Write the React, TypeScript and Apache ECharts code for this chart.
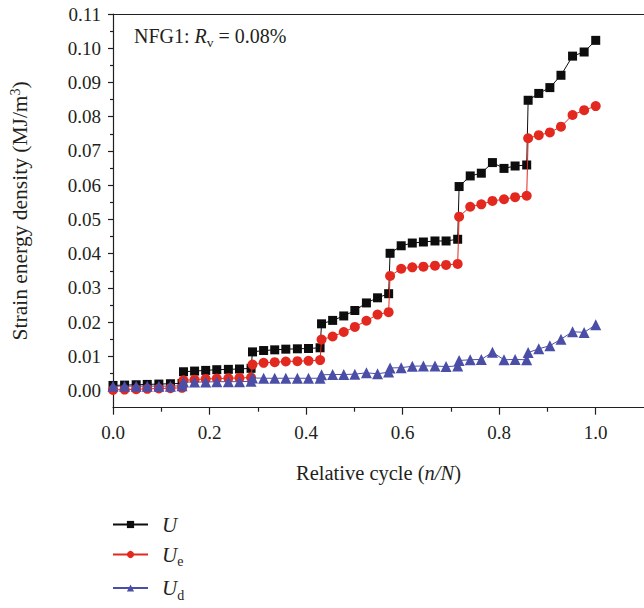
import React, { useEffect, useRef } from "react";
import * as echarts from "echarts";

// Relative cycle n/N for each recorded point (7 loading stages, 7 points each)
const cycles = [
  0.000, 0.024, 0.048, 0.071, 0.095, 0.119, 0.143,
  0.146, 0.169, 0.192, 0.215, 0.239, 0.262, 0.286,
  0.289, 0.312, 0.335, 0.358, 0.382, 0.405, 0.429,
  0.432, 0.455, 0.478, 0.501, 0.525, 0.548, 0.571,
  0.574, 0.597, 0.620, 0.643, 0.667, 0.690, 0.714,
  0.717, 0.740, 0.763, 0.786, 0.810, 0.833, 0.857,
  0.860, 0.882, 0.905, 0.928, 0.952, 0.976, 1.000,
];

// Total strain energy density U (MJ/m3)
const uTotal = [
  0.0015, 0.0016, 0.0017, 0.0018, 0.0019, 0.0020, 0.0021,
  0.0055, 0.0057, 0.0059, 0.0061, 0.0062, 0.0063, 0.0065,
  0.0113, 0.0117, 0.0119, 0.0121, 0.0122, 0.0123, 0.0125,
  0.0195, 0.0205, 0.0218, 0.0234, 0.0256, 0.0271, 0.0283,
  0.0401, 0.0423, 0.0431, 0.0434, 0.0437, 0.0437, 0.0442,
  0.0596, 0.0627, 0.0635, 0.0666, 0.0649, 0.0656, 0.0659,
  0.0848, 0.0868, 0.0885, 0.0921, 0.0977, 0.0989, 0.1023,
];

// Elastic strain energy density Ue
const uElastic = [
  0.0002, 0.0003, 0.0004, 0.0005, 0.0006, 0.0007, 0.0008,
  0.0030, 0.0032, 0.0034, 0.0035, 0.0036, 0.0037, 0.0038,
  0.0076, 0.0081, 0.0083, 0.0085, 0.0086, 0.0087, 0.0089,
  0.0149, 0.0158, 0.0171, 0.0186, 0.0204, 0.0222, 0.0229,
  0.0335, 0.0356, 0.0360, 0.0362, 0.0365, 0.0367, 0.0370,
  0.0508, 0.0537, 0.0544, 0.0554, 0.0559, 0.0565, 0.0569,
  0.0737, 0.0746, 0.0754, 0.0771, 0.0805, 0.0819, 0.0831,
];

// Dissipated strain energy density Ud
const uDissipated = [
  0.0013, 0.0013, 0.0013, 0.0013, 0.0013, 0.0013, 0.0014,
  0.0025, 0.0025, 0.0025, 0.0026, 0.0026, 0.0026, 0.0027,
  0.0037, 0.0036, 0.0036, 0.0036, 0.0036, 0.0036, 0.0036,
  0.0046, 0.0047, 0.0047, 0.0048, 0.0052, 0.0049, 0.0054,
  0.0066, 0.0067, 0.0071, 0.0072, 0.0072, 0.0070, 0.0072,
  0.0088, 0.0090, 0.0091, 0.0112, 0.0090, 0.0091, 0.0090,
  0.0111, 0.0122, 0.0131, 0.0150, 0.0172, 0.0170, 0.0192,
];

const seriesNames = ["U", "Ue", "Ud"];

const xMajorTicks = [0, 0.2, 0.4, 0.6, 0.8, 1.0];
const xMinorTicks = [0.1, 0.3, 0.5, 0.7, 0.9];
const yMajorTicks = [0, 0.01, 0.02, 0.03, 0.04, 0.05, 0.06, 0.07, 0.08, 0.09, 0.1, 0.11];
const yMinorTicks = [0.005, 0.015, 0.025, 0.035, 0.045, 0.055, 0.065, 0.075, 0.085, 0.095, 0.105];

const FONT = '"Liberation Serif", "Times New Roman", serif';
const INK = "#231f20";

export default function App() {
  const ref = useRef<HTMLDivElement>(null);

  useEffect(() => {
    if (!ref.current) return;
    const chart = echarts.init(ref.current, undefined, { renderer: "svg" });

    const axisLineStyle = { color: INK, width: 1.2 };
    const xRange = { min: 0, max: 1.1 };
    const yRange = { min: -0.005, max: 0.11 };

    const option = {
      animation: false,
      textStyle: { fontFamily: FONT, color: INK },
      grid: { left: 112.7, top: 14, right: -2, bottom: 200.3 },
      xAxis: [
        {
          type: "value",
          position: "bottom",
          ...xRange,
          axisLine: { show: true, onZero: false, lineStyle: axisLineStyle },
          axisTick: { show: true, customValues: xMajorTicks, length: 7, lineStyle: axisLineStyle },
          axisLabel: {
            customValues: xMajorTicks,
            formatter: (v: number) => v.toFixed(1),
            fontSize: 19,
            fontFamily: FONT,
            color: INK,
            margin: 15,
          },
          splitLine: { show: false },
          name: "{a|Relative cycle (}{i|n/N}{a|)}",
          nameLocation: "middle",
          nameGap: 53,
          nameTextStyle: {
            rich: {
              a: { fontSize: 20.5, fontFamily: FONT, color: INK, lineHeight: 24 },
              i: { fontSize: 20.5, fontFamily: FONT, color: INK, fontStyle: "italic", lineHeight: 24 },
            },
          },
        },
        {
          type: "value",
          position: "bottom",
          ...xRange,
          axisLine: { show: false, onZero: false },
          axisTick: { show: true, customValues: xMinorTicks, length: 4, lineStyle: axisLineStyle },
          axisLabel: { show: false },
          splitLine: { show: false },
        },
        {
          type: "value",
          position: "top",
          ...xRange,
          axisLine: { show: true, onZero: false, lineStyle: axisLineStyle },
          axisTick: { show: false },
          axisLabel: { show: false },
          splitLine: { show: false },
        },
      ],
      yAxis: [
        {
          type: "value",
          position: "left",
          ...yRange,
          axisLine: { show: true, onZero: false, lineStyle: axisLineStyle },
          axisTick: { show: true, customValues: yMajorTicks, length: 5, lineStyle: axisLineStyle },
          axisLabel: {
            customValues: yMajorTicks,
            formatter: (v: number) => v.toFixed(2),
            fontSize: 19,
            fontFamily: FONT,
            color: INK,
            margin: 12,
          },
          splitLine: { show: false },
          name: "{a|Strain energy density (MJ/m}{sup|3}{a|)}",
          nameLocation: "middle",
          nameRotate: 90,
          nameGap: 81,
          nameTextStyle: {
            rich: {
              a: { fontSize: 21.5, fontFamily: FONT, color: INK, lineHeight: 24 },
              sup: { fontSize: 14, fontFamily: FONT, color: INK, lineHeight: 14, verticalAlign: "top" },
            },
          },
        },
        {
          type: "value",
          position: "left",
          ...yRange,
          axisLine: { show: false, onZero: false },
          axisTick: { show: true, customValues: yMinorTicks, length: 3, lineStyle: axisLineStyle },
          axisLabel: { show: false },
          splitLine: { show: false },
        },
      ],
      legend: {
        orient: "vertical",
        left: 112,
        top: 514,
        padding: 0,
        itemWidth: 35,
        itemHeight: 9,
        itemGap: 9,
        data: seriesNames,
        formatter: (name: string) =>
          name === "U" ? "{u|U}" : "{u|U}{s|" + name.slice(1) + "}",
        textStyle: {
          fontFamily: FONT,
          color: INK,
          rich: {
            u: { fontSize: 21, fontStyle: "italic", fontFamily: FONT, color: INK, lineHeight: 28, padding: [0, 0, 0, 9] },
            s: { fontSize: 14, fontFamily: FONT, color: INK, lineHeight: 14, verticalAlign: "bottom" },
          },
        },
      },
      graphic: [
        {
          type: "text",
          x: 134,
          y: 36,
          style: {
            text: "{a|NFG1: }{i|R}{s|v}{a| = 0.08%}",
            verticalAlign: "middle",
            rich: {
              a: { fontSize: 20, fontFamily: FONT, fill: INK, lineHeight: 26 },
              i: { fontSize: 20, fontFamily: FONT, fill: INK, fontStyle: "italic", lineHeight: 26 },
              s: { fontSize: 13.5, fontFamily: FONT, fill: INK, lineHeight: 13, verticalAlign: "bottom" },
            },
          },
        },
      ],
      series: [
        {
          name: seriesNames[0],
          type: "line",
          xAxisIndex: 0,
          yAxisIndex: 0,
          data: cycles.map((c, i) => [c, uTotal[i]]),
          symbol: "rect",
          symbolSize: 9,
          color: "#0d0d0d",
          lineStyle: { width: 1, color: "#0d0d0d" },
          itemStyle: { color: "#0d0d0d" },
          z: 2,
        },
        {
          name: seriesNames[1],
          type: "line",
          xAxisIndex: 0,
          yAxisIndex: 0,
          data: cycles.map((c, i) => [c, uElastic[i]]),
          symbol: "circle",
          symbolSize: 10,
          color: "#e3291f",
          lineStyle: { width: 1, color: "#e3291f" },
          itemStyle: { color: "#e3291f" },
          z: 3,
        },
        {
          name: seriesNames[2],
          type: "line",
          xAxisIndex: 0,
          yAxisIndex: 0,
          data: cycles.map((c, i) => [c, uDissipated[i]]),
          symbol: "triangle",
          symbolSize: 11,
          color: "#4a4ea6",
          lineStyle: { width: 1, color: "#4a4ea6" },
          itemStyle: { color: "#4a4ea6" },
          z: 4,
        },
      ],
    };

    chart.setOption(option as any);
    return () => chart.dispose();
  }, []);

  return (
    <div
      ref={ref}
      style={{ position: "fixed", left: 0, top: 0, width: 644, height: 608, background: "#fff" }}
    />
  );
}
